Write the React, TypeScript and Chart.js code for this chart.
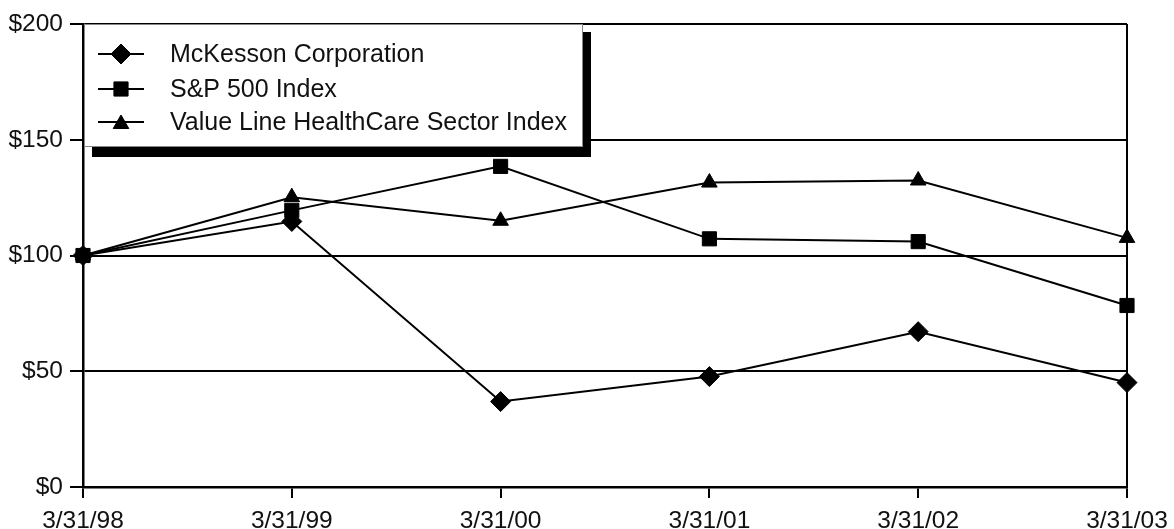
import React, { useEffect, useRef } from "react";
import { Chart, registerables } from "chart.js";

Chart.register(...registerables);

const categories = ["3/31/98", "3/31/99", "3/31/00", "3/31/01", "3/31/02", "3/31/03"];
const mckesson = [100, 114.7, 36.9, 47.7, 67.1, 45.1];
const sp500 = [100, 119.5, 138.5, 107.2, 106.0, 78.4];
const valueLine = [100, 125.2, 115.0, 131.5, 132.4, 107.6];
const seriesNames = ["McKesson Corporation", "S&P 500 Index", "Value Line HealthCare Sector Index"];
const yTicks = [0, 50, 100, 150, 200];

const FONT = "'Liberation Sans', Arial, Helvetica, sans-serif";

function drawMarker(ctx: any, style: string, r: number, x: number, y: number) {
  ctx.beginPath();
  if (style === "rectRot") {
    ctx.moveTo(x - r, y);
    ctx.lineTo(x, y - r);
    ctx.lineTo(x + r, y);
    ctx.lineTo(x, y + r);
  } else if (style === "rect") {
    const s = r * Math.SQRT1_2;
    ctx.rect(x - s, y - s, 2 * s, 2 * s);
  } else {
    ctx.moveTo(x, y - r);
    ctx.lineTo(x + 0.866 * r, y + 0.5 * r);
    ctx.lineTo(x - 0.866 * r, y + 0.5 * r);
  }
  ctx.closePath();
  ctx.fill();
  ctx.stroke();
}

const legendPlugin = {
  id: "boxLegend",
  afterDraw(chart: any) {
    const ctx = chart.ctx;
    const ca = chart.chartArea;
    const x0 = ca.left + 1;
    const y0 = ca.top;
    const w = 499;
    const h = 123;
    ctx.save();
    ctx.fillStyle = "#000";
    ctx.fillRect(x0 + 8, y0 + 8, w, h + 2);
    ctx.fillStyle = "#fff";
    ctx.fillRect(x0, y0, w, h);
    ctx.strokeStyle = "#888";
    ctx.lineWidth = 1;
    ctx.strokeRect(x0 + 0.5, y0 + 0.5, w - 1, h - 1);
    const rows = [30, 65, 98];
    const styles = ["rectRot", "rect", "triangle"];
    const radii = [10, 10, 9];
    rows.forEach((dy, i) => {
      const y = y0 + dy;
      ctx.strokeStyle = "#000";
      ctx.lineWidth = 2;
      ctx.beginPath();
      ctx.moveTo(x0 + 14, y);
      ctx.lineTo(x0 + 60, y);
      ctx.stroke();
      ctx.fillStyle = "#000";
      ctx.lineWidth = 1;
      drawMarker(ctx, styles[i], radii[i], x0 + 37, styles[i] === "triangle" ? y + 2 : y);
      ctx.fillStyle = "#111";
      ctx.font = `25px ${FONT}`;
      ctx.textBaseline = "middle";
      ctx.textAlign = "left";
      ctx.fillText(seriesNames[i], x0 + 86, y + 1);
    });
    ctx.restore();
  },
};

export default function App() {
  const ref = useRef<HTMLCanvasElement>(null);
  useEffect(() => {
    if (!ref.current) return;
    const chart = new Chart(ref.current, {
      type: "line",
      data: {
        labels: categories,
        datasets: [
          { label: seriesNames[0], data: mckesson, pointStyle: "rectRot", pointRadius: 10 },
          { label: seriesNames[1], data: sp500, pointStyle: "rect", pointRadius: 10 },
          { label: seriesNames[2], data: valueLine, pointStyle: "triangle", pointRadius: 9 },
        ].map((d) => ({
          ...d,
          borderColor: "#000",
          backgroundColor: "#000",
          pointBackgroundColor: "#000",
          pointBorderColor: "#000",
          pointBorderWidth: 1,
          borderWidth: 2,
          tension: 0,
          fill: false,
          clip: false as any,
        })),
      },
      options: {
        animation: false,
        responsive: false,
        maintainAspectRatio: false,
        layout: { padding: { top: 24, right: 47, bottom: 0, left: 0 } },
        plugins: { legend: { display: false }, tooltip: { enabled: false } },
        scales: {
          x: {
            type: "category",
            offset: false,
            grid: {
              display: true,
              color: (c: any) => (c.index === categories.length - 1 ? "#000" : "rgba(0,0,0,0)"),
              tickColor: "#000",
              lineWidth: 2,
              tickLength: 11,
              drawTicks: true,
            },
            border: { display: true, color: "#000", width: 2.5 },
            ticks: {
              color: "#111",
              font: { family: FONT, size: 24.5 },
              padding: 9,
              maxRotation: 0,
              autoSkip: false,
            },
            afterFit: (s: any) => {
              s.height = 42;
              s.paddingLeft = 0;
              s.paddingRight = 0;
            },
          },
          y: {
            min: 0,
            max: 200,
            afterBuildTicks: (s: any) => {
              s.ticks = yTicks.map((v) => ({ value: v }));
            },
            grid: { color: "#000", lineWidth: 2, tickLength: 13, drawTicks: true, tickColor: "#000" },
            border: { display: true, color: "#000", width: 2.5 },
            ticks: {
              color: "#111",
              font: { family: FONT, size: 24.5 },
              padding: 7,
              callback: (v: any) => "$" + v,
            },
            afterFit: (s: any) => {
              s.width = 83;
              s.paddingTop = 0;
              s.paddingBottom = 0;
            },
          },
        },
      },
      plugins: [legendPlugin],
    });
    return () => chart.destroy();
  }, []);
  return (
    <div style={{ position: "fixed", left: 0, top: 0, width: 1174, height: 529, background: "#fff" }}>
      <canvas ref={ref} width={1174} height={529} style={{ display: "block", width: 1174, height: 529 }} />
    </div>
  );
}
